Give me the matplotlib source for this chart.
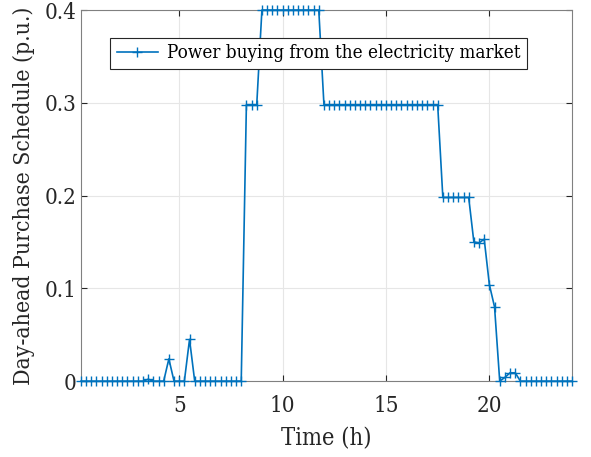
import numpy as np
import matplotlib
matplotlib.use("Agg")
import matplotlib.pyplot as plt

# 15-min resolution day-ahead purchase (p.u.)
t = np.arange(1, 97) * 0.25

zeros_early = [0.0] * 13                  # 0.25 .. 3.25
bumps = [0.002, 0.0, 0.0, 0.0, 0.024, 0.0, 0.0, 0.0, 0.045]   # 3.5 .. 5.5
zeros_mid = [0.0] * 10                    # 5.75 .. 8.0
ramp_up = [0.298, 0.298, 0.298]           # 8.25 .. 8.75
peak = [0.4] * 12                         # 9.0 .. 11.75
plateau = [0.298] * 23                    # 12.0 .. 17.5
step_down = [0.198] * 6                   # 17.75 .. 19.0
decline = [0.150, 0.149, 0.153, 0.104, 0.080, 0.0, 0.004, 0.009, 0.009]  # 19.25 .. 21.25
zeros_late = [0.0] * 11                   # 21.5 .. 24.0

power = np.array(zeros_early + bumps + zeros_mid + ramp_up + peak + plateau
                 + step_down + decline + zeros_late)

plt.rcParams['font.family'] = ['DejaVu Serif']
plt.rcParams['font.stretch'] = 'condensed'

fig = plt.figure(figsize=(5.91, 4.57), dpi=100)
ax = fig.add_axes([0.137, 0.166, 0.831, 0.812])

ax.plot(t, power, color='#0072BD', marker='+', markersize=7.5, linewidth=1.2,
        clip_on=False, zorder=3,
        label='Power buying from the electricity market')

ax.set_xlim(0.25, 24)
ax.set_ylim(0, 0.4)
ax.set_xticks([5, 10, 15, 20])
ax.set_yticks([0, 0.1, 0.2, 0.3, 0.4])
ax.set_yticklabels(['0', '0.1', '0.2', '0.3', '0.4'])
ax.grid(True, color='#e6e6e6', linewidth=0.8)
ax.set_axisbelow(True)
for s in ax.spines.values():
    s.set_color('#808080')
ax.tick_params(direction='in', length=4, labelsize=16, colors='#262626',
               top=True, right=True)
ax.tick_params(axis='x', pad=10)

ax.set_xlabel('Time (h)', fontsize=17, color='#262626', labelpad=7)
ax.set_ylabel('Day-ahead Purchase Schedule (p.u.)', fontsize=16.5, color='#262626', labelpad=7)

leg = ax.legend(loc='upper left', bbox_to_anchor=(0.059, 0.925), fontsize=13.5,
                fancybox=False, edgecolor='#262626', framealpha=1,
                handlelength=2.2, borderpad=0.35, handletextpad=0.5,
                borderaxespad=0)
leg.get_frame().set_linewidth(0.8)

fig.savefig('out.png', dpi=100)
